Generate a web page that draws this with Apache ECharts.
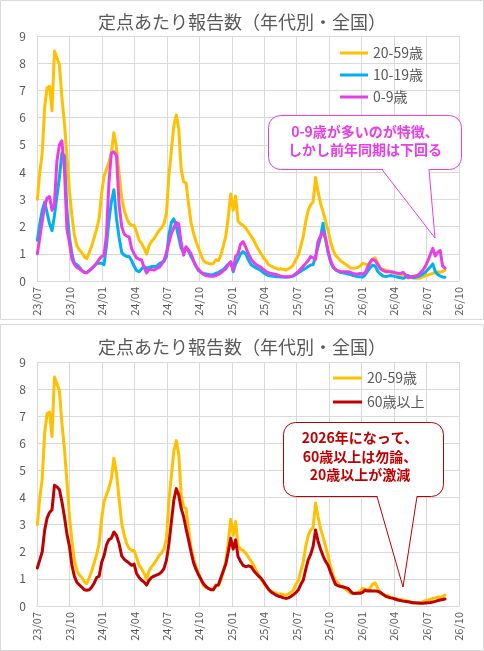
<!DOCTYPE html>
<html><head><meta charset="utf-8">
<script src="https://cdn.jsdelivr.net/npm/echarts@6/dist/echarts.min.js"></script>
<style>html,body{margin:0;padding:0;background:#fff}#c{width:484px;height:651px}</style>
</head><body><div id="c"></div>
<script>
// weekly data, first week starting 2023-07-02
const startDate = '2023-07-02';
const tickLabels = ['23/07','23/10','24/01','24/04','24/07','24/10','25/01','25/04','25/07','25/10','26/01','26/04','26/07','26/10'];
const age20_59 = [3.0,4.0,4.7,6.4,7.1,7.15,6.25,8.45,8.2,7.95,
 6.75,5.8,4.6,3.3,2.4,1.7,1.3,1.15,1.05,0.9,
 0.82,1.05,1.3,1.6,1.9,2.3,3.2,3.85,4.1,4.35,
 4.7,5.45,4.9,3.95,3.05,2.6,2.3,2.12,2.05,2.05,
 1.8,1.5,1.38,1.2,0.99,1.3,1.45,1.55,1.7,1.85,
 1.95,2.1,2.5,3.9,4.8,5.7,6.1,5.6,4.1,3.65,
 3.6,2.85,2.15,1.75,1.45,1.2,0.95,0.75,0.68,0.65,
 0.62,0.65,0.78,0.75,0.95,1.3,1.65,2.35,3.2,2.6,
 3.12,2.2,2.1,2.05,1.95,1.8,1.65,1.5,1.3,1.15,
 1.0,0.85,0.75,0.6,0.55,0.5,0.47,0.43,0.45,0.42,
 0.4,0.45,0.5,0.6,0.8,0.95,1.3,1.65,2.2,2.6,
 2.8,2.9,3.8,3.3,2.85,2.55,2.2,1.85,1.45,1.15,
 0.95,0.85,0.75,0.68,0.62,0.55,0.48,0.47,0.48,0.5,
 0.55,0.65,0.62,0.6,0.65,0.8,0.85,0.65,0.45,0.42,
 0.4,0.38,0.33,0.3,0.28,0.25,0.23,0.22,0.2,0.18,
 0.15,0.12,0.1,0.1,0.12,0.15,0.2,0.22,0.25,0.28,
 0.3,0.33,0.32,0.35,0.4];
const age10_19 = [1.5,2.1,2.6,2.9,2.5,2.1,1.85,2.4,3.1,3.8,
 4.7,4.6,2.6,1.6,1.0,0.65,0.6,0.52,0.4,0.32,
 0.3,0.38,0.47,0.55,0.65,0.65,0.65,0.6,1.3,2.2,
 2.9,3.35,2.3,1.6,1.05,0.95,0.9,0.9,0.75,0.55,
 0.38,0.34,0.45,0.53,0.47,0.5,0.53,0.53,0.53,0.62,
 0.68,0.72,0.9,1.7,2.15,2.28,2.0,1.6,1.2,1.05,
 1.25,1.1,0.9,0.72,0.53,0.38,0.32,0.28,0.26,0.24,
 0.22,0.24,0.28,0.32,0.37,0.42,0.52,0.62,0.7,0.34,
 0.62,0.8,0.98,1.08,1.0,0.77,0.6,0.53,0.48,0.43,
 0.38,0.3,0.24,0.2,0.18,0.17,0.16,0.16,0.15,0.15,
 0.14,0.15,0.16,0.18,0.24,0.3,0.36,0.42,0.47,0.53,
 0.59,0.6,0.9,1.25,1.6,2.12,1.55,1.05,0.7,0.5,
 0.42,0.36,0.31,0.3,0.28,0.26,0.24,0.2,0.18,0.16,
 0.16,0.14,0.22,0.35,0.48,0.58,0.55,0.35,0.25,0.18,
 0.16,0.18,0.2,0.18,0.16,0.14,0.12,0.1,0.14,0.2,
 0.15,0.12,0.14,0.16,0.2,0.26,0.32,0.42,0.52,0.63,
 0.35,0.24,0.18,0.15,0.14];
const age0_9 = [1.0,1.6,2.2,2.75,3.05,3.1,2.6,2.85,4.4,5.0,
 5.15,4.1,1.9,1.4,0.8,0.62,0.5,0.45,0.38,0.32,
 0.3,0.38,0.45,0.55,0.65,0.8,0.9,0.95,1.7,3.6,
 4.7,4.75,4.6,2.8,2.0,1.72,1.65,1.62,1.2,1.0,
 0.85,0.8,0.77,0.5,0.3,0.42,0.42,0.4,0.45,0.5,
 0.6,0.75,1.05,1.4,1.75,1.95,2.15,2.1,1.4,0.95,
 1.25,1.15,1.0,0.75,0.55,0.42,0.32,0.24,0.2,0.18,
 0.17,0.17,0.2,0.24,0.3,0.38,0.45,0.6,0.7,0.4,
 0.9,1.0,1.35,1.45,1.25,1.0,0.8,0.68,0.6,0.55,
 0.5,0.42,0.35,0.3,0.28,0.26,0.24,0.2,0.18,0.16,
 0.16,0.16,0.17,0.2,0.28,0.35,0.45,0.55,0.65,0.75,
 0.9,0.85,0.8,1.45,1.65,1.8,1.55,1.1,0.75,0.55,
 0.42,0.38,0.35,0.34,0.34,0.34,0.32,0.28,0.26,0.26,
 0.28,0.26,0.3,0.5,0.68,0.8,0.75,0.6,0.45,0.38,
 0.34,0.34,0.34,0.33,0.3,0.28,0.28,0.32,0.22,0.12,
 0.15,0.17,0.18,0.22,0.3,0.4,0.55,0.75,0.98,1.2,
 0.92,1.05,1.12,0.55,0.47];
const age60plus = [1.4,1.7,2.0,2.8,3.25,3.45,3.55,4.45,4.4,4.3,
 3.85,3.3,2.65,2.2,1.5,1.1,0.88,0.78,0.7,0.6,
 0.58,0.6,0.7,0.85,1.05,1.1,1.6,1.85,2.25,2.45,
 2.5,2.73,2.6,2.3,1.85,1.72,1.65,1.58,1.5,1.55,
 1.2,1.05,0.95,0.88,0.77,0.95,1.05,1.1,1.14,1.18,
 1.25,1.38,1.7,2.3,3.1,3.9,4.33,4.1,3.6,3.3,
 2.85,2.45,2.0,1.6,1.35,1.15,0.98,0.82,0.72,0.65,
 0.6,0.6,0.75,0.78,1.05,1.3,1.55,2.0,2.5,2.1,
 2.44,1.82,1.65,1.5,1.45,1.48,1.45,1.3,1.2,1.1,
 1.02,0.9,0.75,0.62,0.52,0.46,0.4,0.36,0.34,0.3,
 0.28,0.3,0.35,0.42,0.5,0.6,0.8,0.96,1.35,1.7,
 1.9,2.2,2.8,2.4,2.1,1.85,1.65,1.5,1.25,1.02,
 0.8,0.75,0.72,0.71,0.68,0.65,0.55,0.47,0.46,0.47,
 0.47,0.5,0.59,0.55,0.56,0.55,0.55,0.54,0.5,0.42,
 0.36,0.33,0.3,0.28,0.25,0.22,0.2,0.18,0.17,0.16,
 0.14,0.12,0.12,0.11,0.1,0.1,0.11,0.12,0.13,0.15,
 0.17,0.2,0.22,0.24,0.26];

const title = '定点あたり報告数（年代別・全国）';
const note1 = ['0-9歳が多いのが特徴、', 'しかし前年同期は下回る'];
const note2 = ['2026年になって、', '60歳以上は勿論、', '20歳以上が激減'];

const FONT = '"Noto Sans CJK JP", "Noto Sans", sans-serif';
const C_Y = '#FFC000', C_B = '#00B0F0', C_M = '#E83EE8', C_R = '#C00000';

// x position in months since 2023-07
function monthPos(i) {
  const d = new Date(startDate + 'T00:00:00Z');
  d.setUTCDate(d.getUTCDate() + 7 * i);
  const y = d.getUTCFullYear(), m = d.getUTCMonth(), day = d.getUTCDate();
  const dim = new Date(Date.UTC(y, m + 1, 0)).getUTCDate();
  return (y - 2023) * 12 + (m - 6) + (day - 1) / dim;
}
const pairs = arr => arr.map((v, i) => [monthPos(i), v]);

function xAxis(gi) {
  return {
    type: 'value', gridIndex: gi, min: 0, max: 39, interval: 3,
    axisLine: { show: true, lineStyle: { color: '#d9d9d9' } },
    axisTick: { show: false },
    splitLine: { show: true, lineStyle: { color: '#d9d9d9' } },
    axisLabel: { rotate: 90, fontSize: 11, color: '#595959', fontFamily: FONT, margin: 6,
      formatter: v => tickLabels[Math.round(v / 3)] || '' }
  };
}
function yAxis(gi) {
  return {
    type: 'value', gridIndex: gi, min: 0, max: 9, interval: 1,
    axisLine: { show: true, lineStyle: { color: '#d9d9d9' } },
    axisTick: { show: false },
    splitLine: { show: true, lineStyle: { color: '#d9d9d9' } },
    axisLabel: { fontSize: 12, color: '#595959', fontFamily: FONT, margin: 11 }
  };
}
function line(name, data, color, gi) {
  return { type: 'line', name, data: pairs(data), xAxisIndex: gi, yAxisIndex: gi,
    showSymbol: false, symbol: 'none', smooth: false, silent: true, animation: false,
    lineStyle: { color, width: 3, join: 'round', cap: 'round' }, itemStyle: { color } };
}
function callout(box, ptr, color, lines, cx, y0, dy) {
  const els = [
    { type: 'rect', shape: { x: box[0], y: box[1], width: box[2], height: box[3], r: 12 },
      style: { fill: '#fff', stroke: color, lineWidth: 1 }, z: 100 },
    { type: 'polygon', shape: { points: [[ptr[0], box[1] + box[3] - 1.5], [ptr[1], box[1] + box[3] - 1.5], ptr[2]] },
      style: { fill: '#fff', stroke: null }, z: 101 },
    { type: 'polyline', shape: { points: [[ptr[0], box[1] + box[3]], ptr[2], [ptr[1], box[1] + box[3]]] },
      style: { fill: null, stroke: color, lineWidth: 1 }, z: 102 }
  ];
  lines.forEach((t, k) => els.push({ type: 'text', x: cx, y: y0 + k * dy, z: 103,
    style: { text: t, fill: color, font: 'bold 14px ' + FONT, textAlign: 'center', textVerticalAlign: 'middle' } }));
  return els;
}

const chart = echarts.init(document.getElementById('c'), null, { renderer: 'canvas' });
chart.setOption({
  animation: false,
  backgroundColor: '#fff',
  title: [
    { text: title, left: 'center', top: 8, textStyle: { fontSize: 18, fontWeight: 'normal', color: '#595959', fontFamily: FONT } },
    { text: title, left: 'center', top: 333, textStyle: { fontSize: 18, fontWeight: 'normal', color: '#595959', fontFamily: FONT } }
  ],
  grid: [
    { left: 37, width: 422, top: 36, height: 245 },
    { left: 37, width: 422, top: 362, height: 244 }
  ],
  xAxis: [xAxis(0), xAxis(1)],
  yAxis: [yAxis(0), yAxis(1)],
  legend: [
    { orient: 'vertical', left: 340, top: 45, padding: 0, itemGap: 6, itemWidth: 28, itemHeight: 3, icon: 'rect',
      data: ['20-59歳', '10-19歳', '0-9歳'],
      textStyle: { fontSize: 14, color: '#595959', fontFamily: FONT, lineHeight: 16 } },
    { orient: 'vertical', left: 333, top: 370, padding: 0, itemGap: 8, itemWidth: 29, itemHeight: 3, icon: 'rect',
      data: ['20-59歳', '60歳以上'],
      textStyle: { fontSize: 14, color: '#595959', fontFamily: FONT, lineHeight: 16 } }
  ],
  series: [
    line('20-59歳', age20_59, C_Y, 0),
    line('10-19歳', age10_19, C_B, 0),
    line('0-9歳', age0_9, C_M, 0),
    line('20-59歳', age20_59, C_Y, 1),
    line('60歳以上', age60plus, C_R, 1)
  ],
  graphic: [
    { type: 'rect', shape: { x: 0.5, y: 0.5, width: 483, height: 319 }, style: { fill: null, stroke: '#d9d9d9' }, z: -1 },
    { type: 'rect', shape: { x: 0.5, y: 324.5, width: 483, height: 326 }, style: { fill: null, stroke: '#d9d9d9' }, z: -1 },
    ...callout([268.5, 115.5, 193, 54], [382, 429, [435, 238]], C_M, note1, 365, 132, 18),
    ...callout([283.5, 422.5, 160, 74], [377, 417, [403, 587]], C_R, note2, 360, 438, 18.5)
  ]
});
</script></body></html>
